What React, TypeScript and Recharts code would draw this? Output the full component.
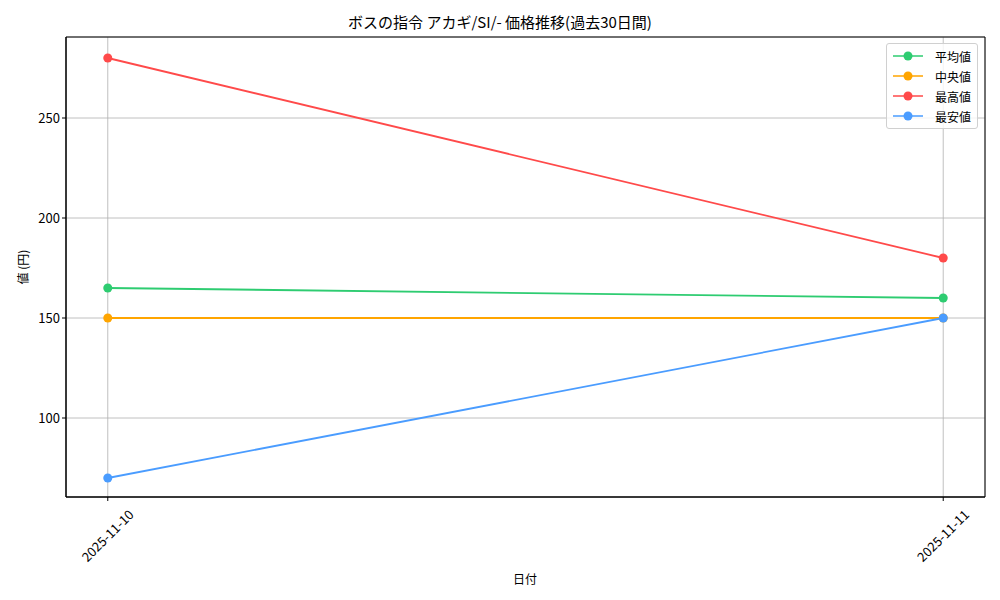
import React from 'react';
import {
  LineChart,
  Line,
  XAxis,
  YAxis,
  CartesianGrid,
  ReferenceArea,
} from 'recharts';

const dates = ['2025-11-10', '2025-11-11'];
const avgPrices = [165, 160];
const medianPrices = [150, 150];
const maxPrices = [280, 180];
const minPrices = [70, 150];
const yTicks = [100, 150, 200, 250];

const series = [
  { key: 'avg', name: '平均値', color: '#2ecc71' },
  { key: 'median', name: '中央値', color: '#ffa500' },
  { key: 'max', name: '最高値', color: '#ff4a4a' },
  { key: 'min', name: '最安値', color: '#4a9cff' },
];

const data = dates.map((d, i) => ({
  x: i,
  avg: avgPrices[i],
  median: medianPrices[i],
  max: maxPrices[i],
  min: minPrices[i],
}));

const FONT = '"Noto Sans CJK JP", "DejaVu Sans", sans-serif';

// matplotlib-style rotated label, centred under the tick
function DateTick(props: any) {
  const { x, y, payload } = props;
  return (
    <g transform={`translate(${x},${y + 33})`}>
      <text
        transform="rotate(-45)"
        textAnchor="middle"
        dy="0.35em"
        fontSize={13}
        fontFamily={FONT}
        fill="#000"
      >
        {dates[payload.value]}
      </text>
    </g>
  );
}

function LegendBox() {
  return (
    <div
      style={{
        position: 'absolute',
        top: 43,
        left: 886,
        background: 'rgba(255,255,255,0.8)',
        border: '1px solid #d0d0d0',
        borderRadius: 3,
        padding: '2px 6px 2px 6px',
        fontFamily: FONT,
        fontSize: 12,
      }}
    >
      {series.map((s) => (
        <div key={s.key} style={{ display: 'flex', alignItems: 'center', height: 20 }}>
          <svg width={30} height={12}>
            <line x1={0} y1={6} x2={30} y2={6} stroke={s.color} strokeWidth={1.5} />
            <circle cx={15} cy={6} r={4.5} fill={s.color} />
          </svg>
          <span style={{ marginLeft: 12 }}>{s.name}</span>
        </div>
      ))}
    </div>
  );
}

export default function App() {
  return (
    <div style={{ position: 'absolute', left: 0, top: 0, width: 1000, height: 600, background: '#fff' }}>
      <LineChart
        width={1000}
        height={600}
        data={data}
        margin={{ top: 37, right: 15, left: 16, bottom: 23 }}
      >
        <CartesianGrid stroke="#b0b0b0" strokeWidth={0.8} />
        <XAxis
          dataKey="x"
          type="number"
          domain={[-0.05, 1.05]}
          ticks={[0, 1]}
          height={80}
          tick={<DateTick />}
          tickLine={{ stroke: '#000' }}
          tickSize={4}
          axisLine={{ stroke: '#000' }}
        />
        <YAxis
          type="number"
          domain={[60.5, 290.5]}
          ticks={yTicks}
          width={50}
          tick={{ fontSize: 13, fill: '#000', fontFamily: FONT }}
          tickLine={{ stroke: '#000' }}
          tickSize={4}
          axisLine={{ stroke: '#000' }}
        />
        <ReferenceArea
          x1={-0.05}
          x2={1.05}
          y1={60.5}
          y2={290.5}
          fill="none"
          stroke="#000"
          strokeWidth={1}
          fillOpacity={0}
        />
        {series.map((s) => (
          <Line
            key={s.key}
            type="linear"
            dataKey={s.key}
            name={s.name}
            stroke={s.color}
            strokeWidth={1.8}
            dot={{ r: 4.5, fill: s.color, stroke: s.color, strokeWidth: 0 }}
            isAnimationActive={false}
          />
        ))}
      </LineChart>
      <div
        style={{
          position: 'absolute',
          top: 11,
          width: 1000,
          textAlign: 'center',
          fontFamily: FONT,
          fontSize: 15,
        }}
      >
        ボスの指令 アカギ/SI/- 価格推移(過去30日間)
      </div>
      <div
        style={{
          position: 'absolute',
          left: 525,
          top: 570,
          fontFamily: FONT,
          fontSize: 12,
          transform: 'translateX(-50%)',
        }}
      >
        日付
      </div>
      <div
        style={{
          position: 'absolute',
          left: 22,
          top: 267,
          fontFamily: FONT,
          fontSize: 12,
          whiteSpace: 'nowrap',
          transform: 'translate(-50%, -50%) rotate(-90deg)',
        }}
      >
        値 (円)
      </div>
      <LegendBox />
    </div>
  );
}
